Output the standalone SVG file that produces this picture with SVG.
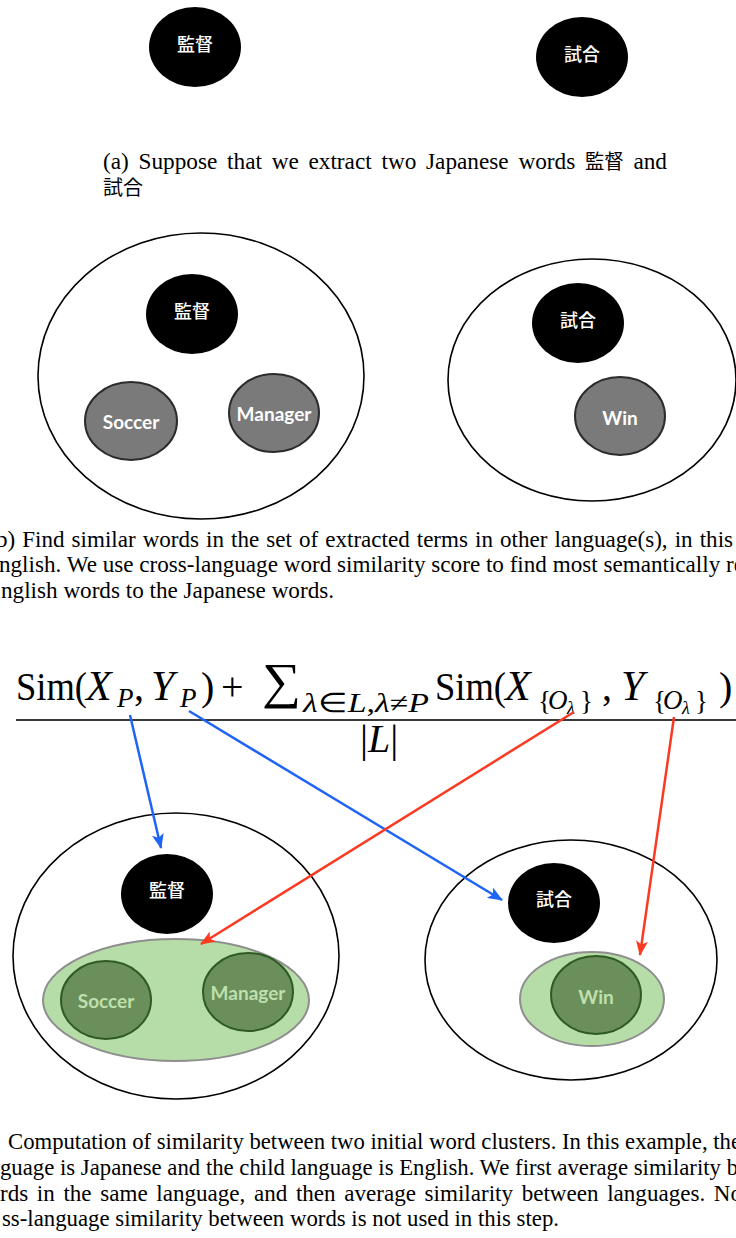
<svg xmlns="http://www.w3.org/2000/svg" width="736" height="1238" viewBox="0 0 736 1238">
<style>
.bg{fill:#fff}
.jp{fill:#000}
.jpt{font-family:"Noto Sans CJK JP",sans-serif;font-size:18px;font-weight:500;fill:#fff;text-anchor:middle;dominant-baseline:central}
.cluster{fill:none;stroke:#000;stroke-width:1.6}
.en{fill:#7a7a7a;stroke:#2b2b2b;stroke-width:2}
.ent{font-family:Lato,"Open Sans",sans-serif;font-size:19px;font-weight:700;fill:#fff;text-anchor:middle;dominant-baseline:central}
.grp{fill:#b6dca7;stroke:#8e8e8e;stroke-width:2}
.gn{fill:#6a8f5a;stroke:#2e5a24;stroke-width:2}
.gnt{font-family:Lato,"Open Sans",sans-serif;font-size:19px;font-weight:700;fill:#bfe0ad;text-anchor:middle;dominant-baseline:central}
.cap{font-family:"Liberation Serif","Noto Sans CJK JP",serif;font-size:24px;fill:#000}
.cjk{font-family:"Noto Sans CJK JP",sans-serif;font-size:20px}
.m{font-family:"Liberation Serif",serif;font-size:40px;fill:#000}
.mi{font-style:italic}
.big{font-size:42px}
.s{font-size:27px}
.ss{font-size:18px}
.sum{font-size:50px}
.blue{stroke:#1f64f5;stroke-width:2.5;fill:none}
.red{stroke:#fb3a22;stroke-width:2.5;fill:none}
</style>
<defs>
<marker id="ah-blue" viewBox="0 0 15 12" refX="14" refY="6" markerWidth="15" markerHeight="12" markerUnits="userSpaceOnUse" orient="auto"><path d="M0,0 L15,6 L0,12 L3.5,6 Z" fill="#1f64f5"/></marker>
<marker id="ah-red" viewBox="0 0 15 12" refX="14" refY="6" markerWidth="15" markerHeight="12" markerUnits="userSpaceOnUse" orient="auto"><path d="M0,0 L15,6 L0,12 L3.5,6 Z" fill="#fb3a22"/></marker>
</defs>
<rect class="bg" x="0" y="0" width="736" height="1238"/>

<!-- (a) -->
<g id="a-kantoku"><ellipse class="jp" cx="195" cy="47" rx="46" ry="40"/><text class="jpt" x="195" y="43">監督</text></g>
<g id="a-shiai"><ellipse class="jp" cx="582" cy="57" rx="46" ry="40"/><text class="jpt" x="582" y="53">試合</text></g>
<g id="caption-a">
<text class="cap" x="103" y="169" word-spacing="4" textLength="564" lengthAdjust="spacingAndGlyphs">(a) Suppose that we extract two Japanese words <tspan class="cjk">監督</tspan> and</text>
<text class="cap" x="103" y="195"><tspan class="cjk">試合</tspan></text>
</g>

<!-- (b) -->
<g id="b-cluster-left"><ellipse class="cluster" cx="201" cy="376" rx="163" ry="143"/></g>
<g id="b-kantoku"><ellipse class="jp" cx="192" cy="314" rx="46" ry="40"/><text class="jpt" x="192" y="310">監督</text></g>
<g id="b-soccer"><ellipse class="en" cx="131" cy="421" rx="46" ry="39"/><text class="ent" x="131" y="421">Soccer</text></g>
<g id="b-manager"><ellipse class="en" cx="274" cy="413" rx="45" ry="39"/><text class="ent" x="274" y="413">Manager</text></g>
<g id="b-cluster-right"><ellipse class="cluster" cx="592" cy="380" rx="144" ry="121"/></g>
<g id="b-shiai"><ellipse class="jp" cx="578" cy="323" rx="46" ry="40"/><text class="jpt" x="578" y="319">試合</text></g>
<g id="b-win"><ellipse class="en" cx="620" cy="416" rx="45" ry="39"/><text class="ent" x="620" y="417">Win</text></g>
<g id="caption-b">
<text class="cap" x="-4" y="547" word-spacing="1.4" textLength="737" lengthAdjust="spacingAndGlyphs">b) Find similar words in the set of extracted terms in other language(s), in this</text>
<text class="cap" x="-1" y="572" textLength="745" lengthAdjust="spacingAndGlyphs">nglish. We use cross-language word similarity score to find most semantically re</text>
<text class="cap" x="1" y="598" textLength="333" lengthAdjust="spacingAndGlyphs">nglish words to the Japanese words.</text>
</g>

<!-- formula -->
<g id="formula">
<text class="m" x="16" y="700" textLength="71" lengthAdjust="spacingAndGlyphs">Sim(</text>
<text class="m mi big" x="86" y="700">X</text>
<text class="m mi s" x="117" y="707">P</text>
<text class="m" x="134" y="700">,</text>
<text class="m mi big" x="151" y="700">Y</text>
<text class="m mi s" x="180" y="707">P</text>
<text class="m" x="201" y="700">)</text>
<text class="m" x="221" y="700">+</text>
<text class="m sum" x="262" y="698" textLength="39" lengthAdjust="spacingAndGlyphs">∑</text>
<text class="m s" x="303" y="712" textLength="126" lengthAdjust="spacingAndGlyphs"><tspan class="mi">λ</tspan>∈<tspan class="mi">L</tspan>,<tspan class="mi">λ</tspan>≠<tspan class="mi">P</tspan></text>
<text class="m" x="435" y="700" textLength="71" lengthAdjust="spacingAndGlyphs">Sim(</text>
<text class="m mi big" x="505" y="700">X</text>
<text class="m s" y="710"><tspan x="538">{</tspan><tspan class="mi" x="548" y="709">O</tspan><tspan class="mi ss" x="567" y="714">λ</tspan><tspan x="580" y="710">}</tspan></text>
<text class="m" x="602" y="700">,</text>
<text class="m mi big" x="621" y="700">Y</text>
<text class="m s" y="710"><tspan x="653">{</tspan><tspan class="mi" x="663" y="709">O</tspan><tspan class="mi ss" x="682" y="714">λ</tspan><tspan x="695" y="710">}</tspan></text>
<text class="m" x="719" y="700">)</text>
<line x1="16" y1="720" x2="736" y2="720" stroke="#3a3a3a" stroke-width="2"/>
<text class="m" x="360" y="752">|<tspan class="mi">L</tspan>|</text>
</g>

<!-- (c) -->
<g id="c-cluster-left"><ellipse class="cluster" cx="176" cy="956" rx="163" ry="143"/></g>
<g id="c-kantoku"><ellipse class="jp" cx="167" cy="894" rx="46" ry="40"/><text class="jpt" x="167" y="889">監督</text></g>
<g id="c-group-left"><ellipse class="grp" cx="176" cy="1000" rx="133" ry="61"/></g>
<g id="c-soccer"><ellipse class="gn" cx="106" cy="1000" rx="45" ry="39"/><text class="gnt" x="106" y="1000">Soccer</text></g>
<g id="c-manager"><ellipse class="gn" cx="248" cy="992" rx="45" ry="39"/><text class="gnt" x="248" y="992">Manager</text></g>
<g id="c-cluster-right"><ellipse class="cluster" cx="571" cy="960" rx="146" ry="120"/></g>
<g id="c-shiai"><ellipse class="jp" cx="554" cy="903" rx="46" ry="40"/><text class="jpt" x="554" y="898">試合</text></g>
<g id="c-group-right"><ellipse class="grp" cx="592" cy="999" rx="72" ry="47"/></g>
<g id="c-win"><ellipse class="gn" cx="596" cy="995" rx="45" ry="39"/><text class="gnt" x="596" y="996">Win</text></g>

<g id="connectors">
<line class="blue" x1="130" y1="715" x2="161" y2="848" marker-end="url(#ah-blue)"/>
<line class="blue" x1="189" y1="711" x2="502" y2="900" marker-end="url(#ah-blue)"/>
<line class="red" x1="574" y1="712" x2="201" y2="944" marker-end="url(#ah-red)"/>
<line class="red" x1="674" y1="717" x2="640" y2="955" marker-end="url(#ah-red)"/>
</g>

<g id="caption-c">
<text class="cap" x="8" y="1149" textLength="733" lengthAdjust="spacingAndGlyphs">Computation of similarity between two initial word clusters.  In this example, the</text>
<text class="cap" x="0" y="1175" textLength="738" lengthAdjust="spacingAndGlyphs">guage is Japanese and the child language is English.  We first average similarity b</text>
<text class="cap" x="0" y="1201" word-spacing="3" textLength="742" lengthAdjust="spacingAndGlyphs">rds in the same language, and then average similarity between languages.  No</text>
<text class="cap" x="2" y="1226" textLength="557" lengthAdjust="spacingAndGlyphs">ss-language similarity between words is not used in this step.</text>
</g>
</svg>
